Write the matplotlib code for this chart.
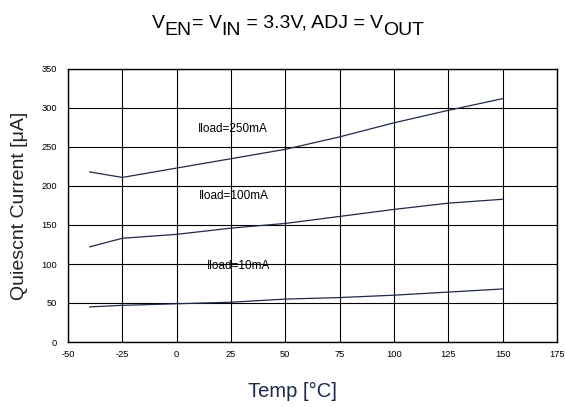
import matplotlib
matplotlib.use('Agg')
from matplotlib import pyplot as plt

plt.rcParams['font.family'] = ['Liberation Sans', 'DejaVu Sans']
plt.rcParams['axes.unicode_minus'] = False

# temperature points
temp = [-40, -25, 0, 25, 50, 75, 100, 125, 150]
# quiescent current per load
iq_250 = [218, 211, 223, 235, 247, 263, 281, 297, 312]
iq_100 = [122, 133, 138, 146, 152, 161, 170, 178, 183]
iq_10 = [45, 47, 49, 51, 55, 57, 60, 64, 68]

labels = ['Iload=250mA', 'Iload=100mA', 'Iload=10mA']
label_pos = [(25.7, 273), (26.4, 187), (28.5, 98)]

xticks = list(range(-50, 176, 25))
yticks = list(range(0, 351, 50))

fig = plt.figure(figsize=(5.65, 4.07), dpi=100)
ax = fig.add_axes([68/565, 1-342/407, 489/565, 273/407])

line_c = '#1f2a4a'
for ys in (iq_250, iq_100, iq_10):
    ax.plot(temp, ys, color=line_c, lw=0.9)
for txt, (x, y) in zip(labels, label_pos):
    ax.text(x, y, txt, fontsize=8.5, ha='center', va='center')

ax.set_xlim(-50, 175)
ax.set_ylim(0, 350)
ax.set_xticks(xticks)
ax.set_yticks(yticks)
ax.tick_params(axis='x', labelsize=6.7, length=0, pad=6)
ax.tick_params(axis='y', labelsize=6.7, length=0, pad=8)
ax.grid(True, color='black', lw=0.8)
for s in ax.spines.values():
    s.set_linewidth(1.0)

ax.set_ylabel('Quiescnt Current [μA]', fontsize=14, color='#222222')
ax.yaxis.set_label_coords(-40/489, 0.5)
ax.set_xlabel('Temp [°C]', fontsize=14.5, color=line_c)
ax.xaxis.set_label_coords((292-68)/489, -(382-342)/273)

# title with large subscripts, built piece by piece
title = [('V', 0), ('EN', 1), ('= ', 0), ('V', 0), ('IN', 1), (' = 3.3V, ADJ = ', 0),
         ('V', 0), ('OUT', 1)]
fig.canvas.draw()
r = fig.canvas.get_renderer()
fs = 14
parts = []
x = 0.0
for s, sub in title:
    t = fig.text(0, 0, s, fontsize=fs, va='baseline', ha='left')
    w = t.get_window_extent(r).width
    parts.append((t, x, sub))
    x += w
x0 = 288 - x / 2
for t, dx, sub in parts:
    y = 407 - 28 - (7 if sub else 0)
    t.set_position(((x0 + dx) / 565, y / 407))

fig.savefig('out.png', dpi=100)
